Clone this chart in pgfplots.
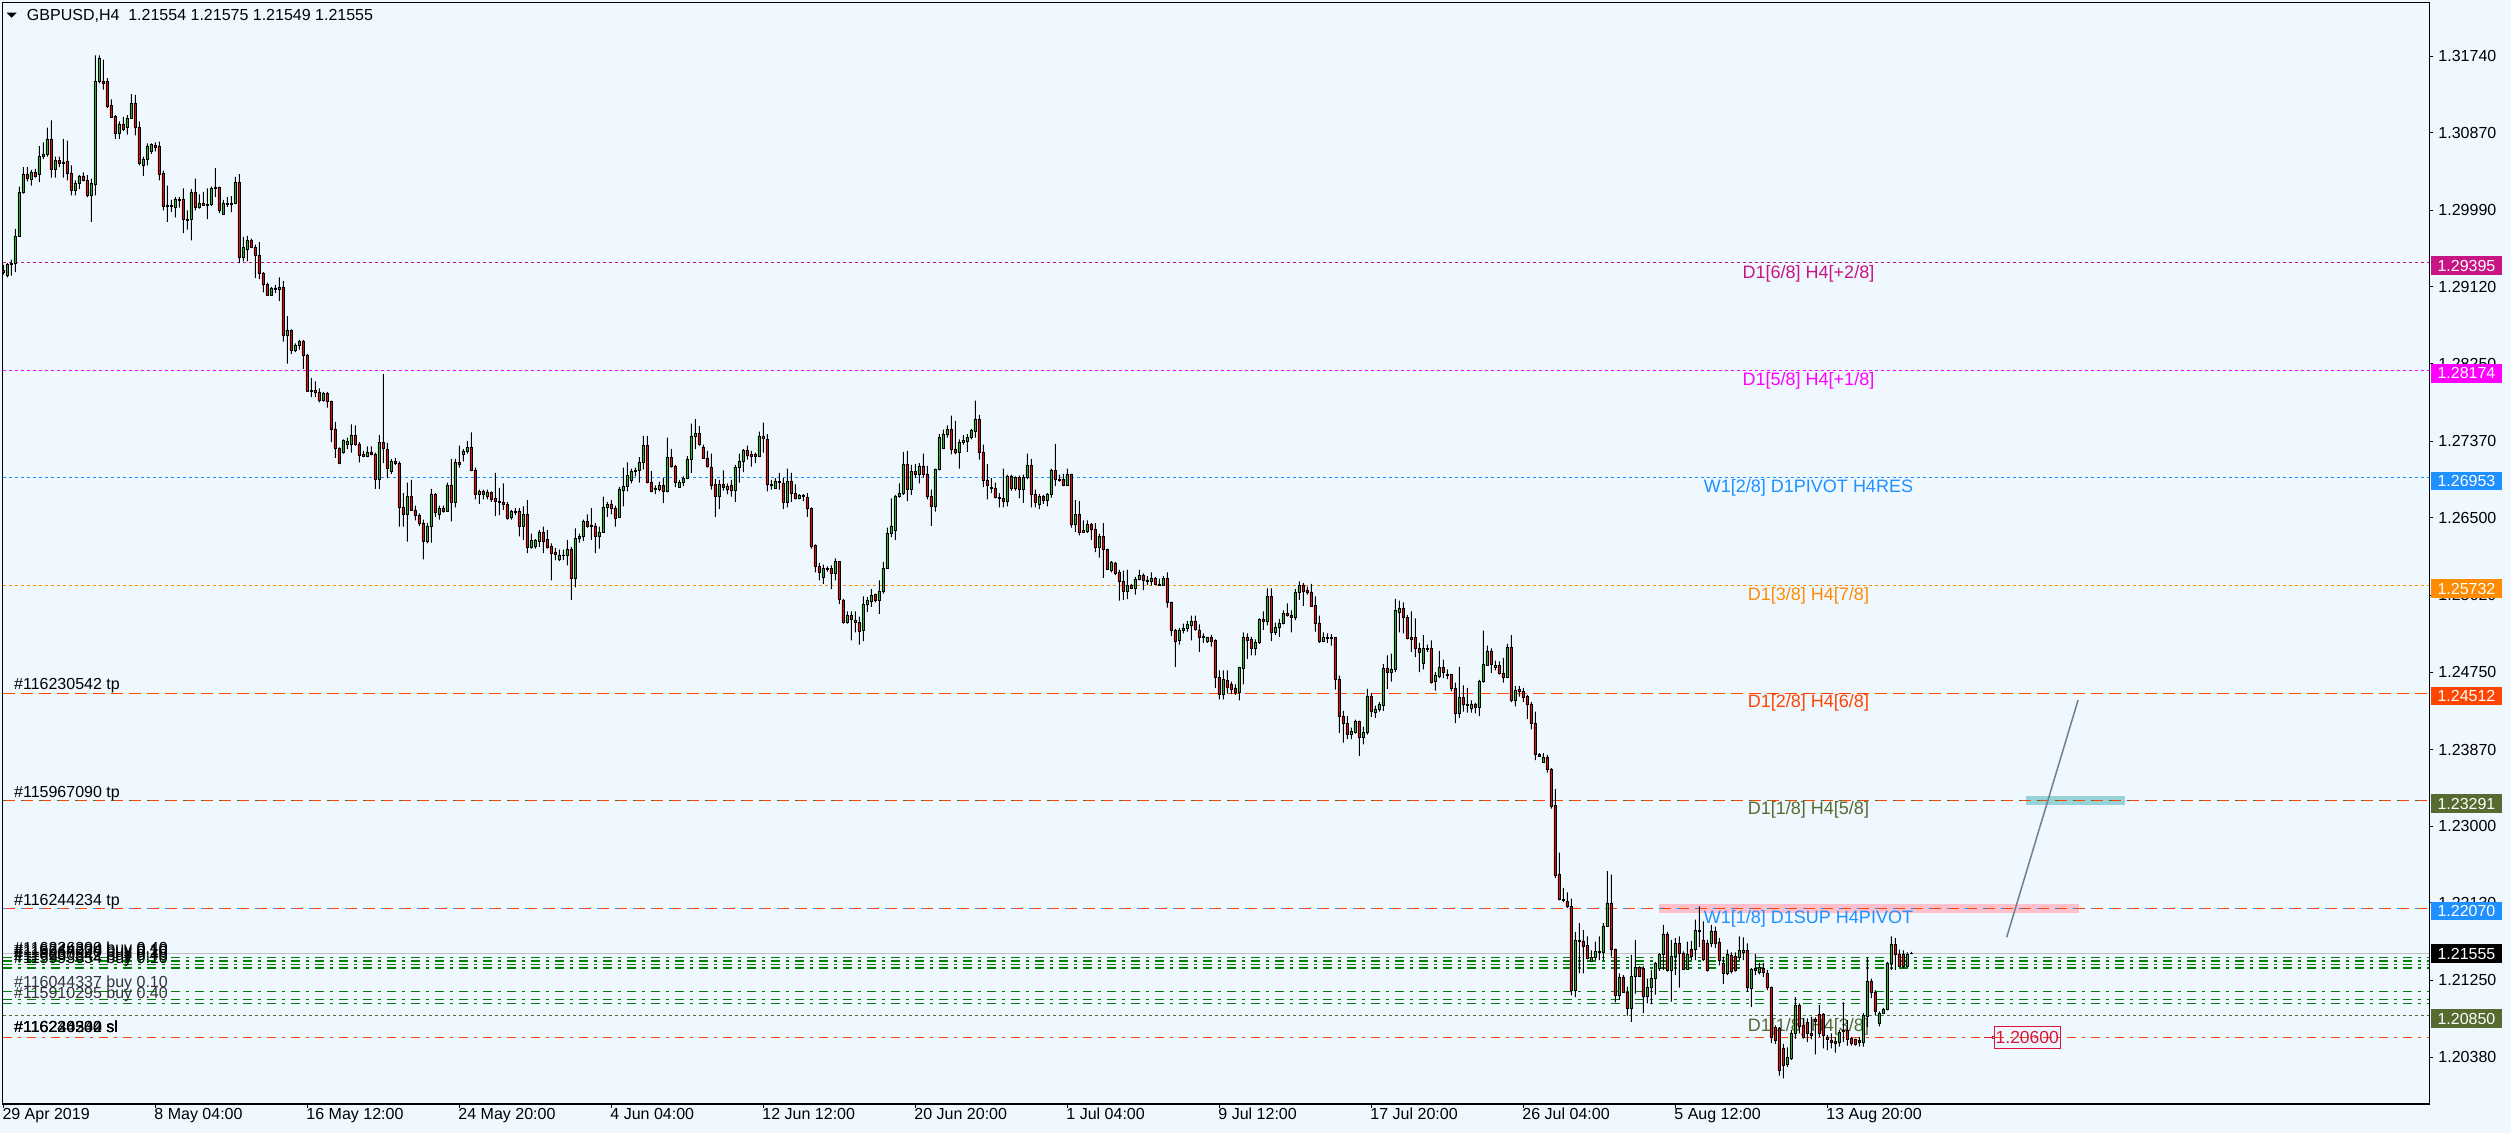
\documentclass[border=0pt]{standalone}
\usepackage{fontspec}
\setmainfont{Liberation Sans}
\usepackage{pgfplots}
\usepackage{pgfplotstable}
\pgfplotsset{compat=1.18}

\definecolor{bg}{RGB}{240,248,255}
\definecolor{bull}{RGB}{45,175,45}
\definecolor{bear}{RGB}{230,10,10}
\definecolor{mvr}{RGB}{199,21,133}
\definecolor{mag}{RGB}{255,0,255}
\definecolor{dblue}{RGB}{30,144,255}
\definecolor{dorange}{RGB}{255,140,0}
\definecolor{ored}{RGB}{255,69,0}
\definecolor{dolive}{RGB}{85,107,47}
\definecolor{ordgreen}{RGB}{0,128,0}
\definecolor{crim}{RGB}{220,20,60}
\definecolor{tline}{RGB}{112,128,144}
\definecolor{zonepink}{RGB}{255,192,203}
\definecolor{zonecyan}{RGB}{150,210,215}
\definecolor{curline}{RGB}{192,192,192}

\newcommand\fs{\fontsize{16}{19}\selectfont}
\newcommand\fl{\fontsize{18}{21}\selectfont}

\pgfplotsset{
  chartframe/.style={
    at={(2.7pt,29.1pt)}, anchor=south west,
    scale only axis, width=2426.6pt, height=1101.6pt,
    xmin=-0.15, xmax=606.5, ymin=1.19849, ymax=1.32351},
  candlelayer/.style={chartframe, hide axis, ybar stacked, axis background/.style={}}
}

% GBPUSD H4 candles: index, open, high, low, close
\pgfplotstableread{
i o h l c
0 1.2931 1.2937 1.2926 1.2929
1 1.2925 1.2939 1.2923 1.2938
2 1.2938 1.2943 1.2925 1.2939
3 1.2939 1.2978 1.2929 1.2970
4 1.2970 1.3026 1.2969 1.3019
5 1.3019 1.3048 1.3018 1.3040
6 1.3040 1.3048 1.3032 1.3035
7 1.3034 1.3045 1.3027 1.3042
8 1.3042 1.3046 1.3036 1.3038
9 1.3040 1.3072 1.3031 1.3060
10 1.3060 1.3076 1.3057 1.3063
11 1.3063 1.3093 1.3060 1.3080
12 1.3080 1.3101 1.3036 1.3046
13 1.3046 1.3060 1.3036 1.3056
14 1.3056 1.3060 1.3048 1.3052
15 1.3054 1.3080 1.3036 1.3052
16 1.3055 1.3078 1.3033 1.3041
17 1.3041 1.3050 1.3016 1.3022
18 1.3022 1.3033 1.3016 1.3030
19 1.3030 1.3039 1.3023 1.3038
20 1.3038 1.3042 1.3032 1.3033
21 1.3033 1.3039 1.3014 1.3016
22 1.3016 1.3035 1.2986 1.3030
23 1.3029 1.3175 1.3016 1.3145
24 1.3145 1.3175 1.3143 1.3172
25 1.3146 1.3170 1.3136 1.3143
26 1.3145 1.3149 1.3115 1.3117
27 1.3118 1.3125 1.3104 1.3105
28 1.3106 1.3107 1.3080 1.3086
29 1.3086 1.3100 1.3080 1.3097
30 1.3097 1.3105 1.3089 1.3091
31 1.3093 1.3107 1.3085 1.3104
32 1.3104 1.3131 1.3103 1.3121
33 1.3121 1.3130 1.3084 1.3093
34 1.3093 1.3100 1.3050 1.3052
35 1.3050 1.3060 1.3038 1.3057
36 1.3057 1.3075 1.3050 1.3072
37 1.3066 1.3075 1.3063 1.3074
38 1.3073 1.3076 1.3066 1.3071
39 1.3072 1.3077 1.3033 1.3040
40 1.3041 1.3044 1.2999 1.3004
41 1.3005 1.3027 1.2986 1.3004
42 1.3004 1.3011 1.2997 1.3005
43 1.3003 1.3014 1.2991 1.3012
44 1.3012 1.3014 1.3002 1.3011
45 1.3012 1.3024 1.2973 1.2989
46 1.2989 1.2999 1.2977 1.2988
47 1.2989 1.3023 1.2965 1.3019
48 1.3019 1.3035 1.2999 1.3002
49 1.3002 1.3017 1.3001 1.3007
50 1.3007 1.3020 1.3004 1.3005
51 1.3005 1.3024 1.2989 1.3006
52 1.3006 1.3026 1.3004 1.3024
53 1.3024 1.3047 1.3014 1.3025
54 1.3025 1.3026 1.2996 1.2999
55 1.2995 1.3011 1.2994 1.3007
56 1.3007 1.3014 1.3003 1.3006
57 1.3006 1.3015 1.2997 1.3007
58 1.3007 1.3037 1.3006 1.3031
59 1.3031 1.3040 1.2939 1.2946
60 1.2946 1.2969 1.2941 1.2957
61 1.2955 1.2970 1.2941 1.2965
62 1.2965 1.2967 1.2956 1.2957
63 1.2957 1.2960 1.2922 1.2948
64 1.2948 1.2963 1.2921 1.2928
65 1.2928 1.2929 1.2906 1.2915
66 1.2915 1.2917 1.2902 1.2903
67 1.2903 1.2912 1.2902 1.2911
68 1.2911 1.2914 1.2905 1.2910
69 1.2910 1.2923 1.2896 1.2912
70 1.2912 1.2919 1.2850 1.2857
71 1.2857 1.2879 1.2825 1.2863
72 1.2863 1.2864 1.2836 1.2840
73 1.2840 1.2848 1.2838 1.2846
74 1.2846 1.2852 1.2841 1.2850
75 1.2850 1.2852 1.2819 1.2835
76 1.2835 1.2836 1.2793 1.2794
77 1.2794 1.2809 1.2787 1.2795
78 1.2795 1.2805 1.2787 1.2793
79 1.2793 1.2797 1.2781 1.2783
80 1.2783 1.2793 1.2782 1.2791
81 1.2791 1.2793 1.2775 1.2782
82 1.2782 1.2783 1.2736 1.2751
83 1.2751 1.2759 1.2718 1.2729
84 1.2729 1.2730 1.2711 1.2712
85 1.2724 1.2739 1.2723 1.2738
86 1.2734 1.2741 1.2728 1.2737
87 1.2734 1.2756 1.2724 1.2744
88 1.2744 1.2755 1.2732 1.2734
89 1.2734 1.2736 1.2713 1.2721
90 1.2722 1.2726 1.2719 1.2720
91 1.2720 1.2731 1.2719 1.2725
92 1.2725 1.2731 1.2721 1.2722
93 1.2722 1.2724 1.2683 1.2694
94 1.2694 1.2744 1.2683 1.2736
95 1.2736 1.2813 1.2712 1.2729
96 1.2728 1.2735 1.2695 1.2706
97 1.2703 1.2717 1.2700 1.2714
98 1.2714 1.2718 1.2710 1.2712
99 1.2712 1.2714 1.2640 1.2662
100 1.2662 1.2678 1.2640 1.2654
101 1.2654 1.2690 1.2623 1.2674
102 1.2674 1.2693 1.2658 1.2659
103 1.2659 1.2664 1.2647 1.2653
104 1.2653 1.2655 1.2641 1.2644
105 1.2644 1.2648 1.2603 1.2624
106 1.2624 1.2644 1.2621 1.2641
107 1.2641 1.2683 1.2622 1.2677
108 1.2677 1.2678 1.2651 1.2656
109 1.2654 1.2664 1.2648 1.2661
110 1.2661 1.2664 1.2656 1.2658
111 1.2658 1.2690 1.2657 1.2687
112 1.2687 1.2717 1.2646 1.2668
113 1.2668 1.2717 1.2662 1.2713
114 1.2713 1.2732 1.2707 1.2711
115 1.2722 1.2728 1.2714 1.2726
116 1.2726 1.2737 1.2723 1.2730
117 1.2730 1.2747 1.2703 1.2704
118 1.2704 1.2707 1.2671 1.2677
119 1.2677 1.2682 1.2666 1.2680
120 1.2680 1.2682 1.2671 1.2677
121 1.2675 1.2682 1.2671 1.2679
122 1.2679 1.2680 1.2668 1.2671
123 1.2672 1.2701 1.2652 1.2669
124 1.2669 1.2684 1.2653 1.2668
125 1.2668 1.2689 1.2659 1.2665
126 1.2665 1.2668 1.2648 1.2650
127 1.2651 1.2659 1.2648 1.2657
128 1.2658 1.2661 1.2653 1.2656
129 1.2658 1.2661 1.2629 1.2641
130 1.2641 1.2663 1.2625 1.2654
131 1.2654 1.2670 1.2610 1.2617
132 1.2617 1.2632 1.2615 1.2625
133 1.2618 1.2626 1.2615 1.2625
134 1.2624 1.2636 1.2617 1.2634
135 1.2634 1.2640 1.2610 1.2624
136 1.2626 1.2636 1.2615 1.2617
137 1.2618 1.2621 1.2579 1.2610
138 1.2611 1.2616 1.2602 1.2609
139 1.2603 1.2614 1.2601 1.2608
140 1.2608 1.2614 1.2602 1.2607
141 1.2607 1.2625 1.2596 1.2614
142 1.2614 1.2617 1.2557 1.2581
143 1.2581 1.2638 1.2571 1.2627
144 1.2627 1.2632 1.2622 1.2629
145 1.2629 1.2648 1.2624 1.2646
146 1.2646 1.2654 1.2639 1.2640
147 1.2642 1.2661 1.2625 1.2640
148 1.2641 1.2644 1.2610 1.2629
149 1.2629 1.2640 1.2615 1.2634
150 1.2634 1.2674 1.2633 1.2662
151 1.2662 1.2668 1.2651 1.2666
152 1.2666 1.2670 1.2654 1.2661
153 1.2661 1.2664 1.2640 1.2650
154 1.2651 1.2685 1.2650 1.2683
155 1.2681 1.2707 1.2663 1.2686
156 1.2686 1.2713 1.2680 1.2698
157 1.2693 1.2706 1.2689 1.2703
158 1.2703 1.2707 1.2697 1.2704
159 1.2704 1.2719 1.2690 1.2713
160 1.2713 1.2743 1.2705 1.2732
161 1.2732 1.2743 1.2689 1.2690
162 1.2690 1.2703 1.2679 1.2680
163 1.2684 1.2687 1.2677 1.2683
164 1.2683 1.2691 1.2680 1.2687
165 1.2687 1.2695 1.2667 1.2680
166 1.2680 1.2741 1.2679 1.2719
167 1.2719 1.2728 1.2707 1.2708
168 1.2709 1.2710 1.2685 1.2690
169 1.2685 1.2693 1.2684 1.2690
170 1.2690 1.2697 1.2686 1.2695
171 1.2695 1.2720 1.2694 1.2716
172 1.2716 1.2757 1.2701 1.2743
173 1.2743 1.2762 1.2728 1.2746
174 1.2746 1.2754 1.2732 1.2733
175 1.2730 1.2733 1.2717 1.2718
176 1.2718 1.2726 1.2707 1.2708
177 1.2708 1.2723 1.2682 1.2687
178 1.2688 1.2694 1.2651 1.2674
179 1.2674 1.2693 1.2660 1.2688
180 1.2688 1.2704 1.2681 1.2685
181 1.2682 1.2689 1.2677 1.2686
182 1.2687 1.2693 1.2674 1.2681
183 1.2681 1.2710 1.2668 1.2707
184 1.2707 1.2723 1.2690 1.2714
185 1.2714 1.2728 1.2702 1.2727
186 1.2727 1.2732 1.2716 1.2721
187 1.2722 1.2726 1.2708 1.2720
188 1.2722 1.2724 1.2712 1.2720
189 1.2720 1.2748 1.2719 1.2743
190 1.2743 1.2758 1.2724 1.2740
191 1.2739 1.2745 1.2680 1.2688
192 1.2688 1.2693 1.2682 1.2687
193 1.2684 1.2695 1.2683 1.2692
194 1.2692 1.2701 1.2682 1.2690
195 1.2689 1.2695 1.2660 1.2668
196 1.2668 1.2706 1.2662 1.2692
197 1.2692 1.2701 1.2668 1.2678
198 1.2678 1.2688 1.2671 1.2672
199 1.2672 1.2677 1.2671 1.2676
200 1.2676 1.2677 1.2669 1.2674
201 1.2673 1.2678 1.2651 1.2661
202 1.2661 1.2662 1.2615 1.2618
203 1.2619 1.2620 1.2588 1.2595
204 1.2595 1.2599 1.2579 1.2588
205 1.2583 1.2597 1.2575 1.2593
206 1.2593 1.2595 1.2589 1.2592
207 1.2593 1.2596 1.2569 1.2587
208 1.2587 1.2604 1.2579 1.2601
209 1.2601 1.2601 1.2552 1.2558
210 1.2557 1.2558 1.2530 1.2531
211 1.2531 1.2544 1.2530 1.2539
212 1.2539 1.2544 1.2511 1.2535
213 1.2534 1.2544 1.2520 1.2531
214 1.2531 1.2538 1.2506 1.2521
215 1.2522 1.2561 1.2510 1.2552
216 1.2552 1.2560 1.2543 1.2556
217 1.2555 1.2569 1.2549 1.2562
218 1.2563 1.2564 1.2554 1.2556
219 1.2556 1.2579 1.2541 1.2567
220 1.2567 1.2600 1.2564 1.2593
221 1.2593 1.2639 1.2592 1.2632
222 1.2632 1.2672 1.2628 1.2641
223 1.2636 1.2676 1.2625 1.2675
224 1.2674 1.2689 1.2673 1.2678
225 1.2678 1.2725 1.2676 1.2711
226 1.2711 1.2726 1.2669 1.2682
227 1.2682 1.2710 1.2676 1.2703
228 1.2703 1.2711 1.2695 1.2699
229 1.2699 1.2712 1.2689 1.2709
230 1.2709 1.2723 1.2696 1.2700
231 1.2700 1.2709 1.2671 1.2674
232 1.2674 1.2682 1.2641 1.2663
233 1.2663 1.2706 1.2657 1.2705
234 1.2705 1.2745 1.2704 1.2741
235 1.2729 1.2750 1.2728 1.2745
236 1.2745 1.2755 1.2741 1.2750
237 1.2750 1.2766 1.2722 1.2728
238 1.2728 1.2760 1.2722 1.2724
239 1.2724 1.2739 1.2706 1.2736
240 1.2736 1.2744 1.2733 1.2738
241 1.2737 1.2745 1.2725 1.2741
242 1.2741 1.2751 1.2739 1.2749
243 1.2748 1.2783 1.2741 1.2762
244 1.2762 1.2767 1.2716 1.2724
245 1.2724 1.2733 1.2685 1.2693
246 1.2693 1.2711 1.2671 1.2687
247 1.2684 1.2695 1.2678 1.2685
248 1.2684 1.2690 1.2672 1.2673
249 1.2673 1.2678 1.2662 1.2672
250 1.2672 1.2706 1.2662 1.2669
251 1.2669 1.2699 1.2663 1.2697
252 1.2697 1.2699 1.2681 1.2684
253 1.2684 1.2697 1.2681 1.2696
254 1.2696 1.2698 1.2672 1.2682
255 1.2682 1.2699 1.2667 1.2696
256 1.2696 1.2723 1.2694 1.2710
257 1.2710 1.2717 1.2662 1.2677
258 1.2677 1.2682 1.2662 1.2668
259 1.2666 1.2677 1.2660 1.2674
260 1.2674 1.2676 1.2666 1.2670
261 1.2670 1.2678 1.2663 1.2677
262 1.2677 1.2706 1.2673 1.2704
263 1.2704 1.2734 1.2686 1.2694
264 1.2694 1.2699 1.2691 1.2693
265 1.2694 1.2700 1.2686 1.2687
266 1.2687 1.2706 1.2686 1.2700
267 1.2700 1.2700 1.2639 1.2643
268 1.2643 1.2670 1.2634 1.2654
269 1.2654 1.2669 1.2630 1.2634
270 1.2636 1.2647 1.2633 1.2634
271 1.2635 1.2647 1.2633 1.2643
272 1.2643 1.2644 1.2625 1.2637
273 1.2637 1.2644 1.2611 1.2617
274 1.2617 1.2632 1.2605 1.2629
275 1.2629 1.2644 1.2582 1.2614
276 1.2614 1.2615 1.2591 1.2592
277 1.2591 1.2601 1.2588 1.2600
278 1.2599 1.2600 1.2585 1.2587
279 1.2588 1.2591 1.2556 1.2578
280 1.2578 1.2590 1.2557 1.2567
281 1.2567 1.2591 1.2558 1.2574
282 1.2574 1.2575 1.2569 1.2570
283 1.2570 1.2583 1.2563 1.2580
284 1.2580 1.2591 1.2579 1.2585
285 1.2585 1.2587 1.2568 1.2579
286 1.2579 1.2584 1.2574 1.2578
287 1.2578 1.2588 1.2573 1.2581
288 1.2581 1.2583 1.2574 1.2575
289 1.2575 1.2581 1.2573 1.2574
290 1.2574 1.2584 1.2573 1.2581
291 1.2581 1.2588 1.2548 1.2554
292 1.2554 1.2555 1.2516 1.2522
293 1.2522 1.2524 1.2481 1.2510
294 1.2511 1.2525 1.2506 1.2523
295 1.2523 1.2530 1.2519 1.2525
296 1.2525 1.2533 1.2521 1.2529
297 1.2528 1.2539 1.2511 1.2533
298 1.2533 1.2539 1.2522 1.2524
299 1.2523 1.2529 1.2498 1.2515
300 1.2516 1.2519 1.2508 1.2515
301 1.2510 1.2515 1.2508 1.2514
302 1.2514 1.2517 1.2504 1.2510
303 1.2511 1.2512 1.2457 1.2469
304 1.2469 1.2477 1.2444 1.2450
305 1.2450 1.2477 1.2444 1.2467
306 1.2466 1.2477 1.2451 1.2458
307 1.2461 1.2464 1.2450 1.2455
308 1.2457 1.2461 1.2449 1.2452
309 1.2452 1.2481 1.2443 1.2480
310 1.2479 1.2520 1.2461 1.2514
311 1.2514 1.2519 1.2490 1.2511
312 1.2512 1.2515 1.2494 1.2502
313 1.2502 1.2512 1.2494 1.2509
314 1.2509 1.2536 1.2507 1.2535
315 1.2535 1.2544 1.2523 1.2533
316 1.2533 1.2570 1.2528 1.2561
317 1.2561 1.2570 1.2510 1.2520
318 1.2520 1.2531 1.2517 1.2526
319 1.2526 1.2535 1.2515 1.2530
320 1.2530 1.2545 1.2529 1.2542
321 1.2542 1.2553 1.2538 1.2539
322 1.2540 1.2545 1.2520 1.2537
323 1.2537 1.2569 1.2534 1.2566
324 1.2566 1.2578 1.2557 1.2573
325 1.2574 1.2576 1.2550 1.2567
326 1.2568 1.2572 1.2563 1.2566
327 1.2566 1.2575 1.2549 1.2550
328 1.2551 1.2561 1.2521 1.2530
329 1.2530 1.2539 1.2508 1.2510
330 1.2510 1.2520 1.2509 1.2514
331 1.2514 1.2519 1.2508 1.2513
332 1.2513 1.2518 1.2505 1.2514
333 1.2514 1.2515 1.2455 1.2467
334 1.2467 1.2471 1.2406 1.2425
335 1.2425 1.2431 1.2395 1.2417
336 1.2417 1.2425 1.2399 1.2404
337 1.2404 1.2412 1.2399 1.2408
338 1.2407 1.2421 1.2405 1.2419
339 1.2419 1.2420 1.2380 1.2401
340 1.2401 1.2413 1.2393 1.2407
341 1.2407 1.2456 1.2404 1.2448
342 1.2448 1.2451 1.2424 1.2430
343 1.2429 1.2437 1.2423 1.2433
344 1.2433 1.2441 1.2430 1.2438
345 1.2437 1.2484 1.2431 1.2479
346 1.2479 1.2494 1.2456 1.2475
347 1.2475 1.2496 1.2464 1.2478
348 1.2478 1.2558 1.2475 1.2545
349 1.2543 1.2556 1.2520 1.2547
350 1.2547 1.2554 1.2519 1.2537
351 1.2537 1.2540 1.2512 1.2513
352 1.2514 1.2544 1.2498 1.2512
353 1.2514 1.2536 1.2492 1.2502
354 1.2502 1.2508 1.2475 1.2498
355 1.2485 1.2517 1.2478 1.2502
356 1.2502 1.2506 1.2498 1.2501
357 1.2502 1.2511 1.2462 1.2463
358 1.2464 1.2475 1.2454 1.2471
359 1.2470 1.2499 1.2468 1.2480
360 1.2480 1.2489 1.2468 1.2475
361 1.2472 1.2478 1.2467 1.2471
362 1.2472 1.2473 1.2453 1.2457
363 1.2457 1.2463 1.2417 1.2428
364 1.2428 1.2481 1.2423 1.2446
365 1.2446 1.2460 1.2430 1.2438
366 1.2438 1.2457 1.2429 1.2437
367 1.2434 1.2443 1.2429 1.2438
368 1.2439 1.2440 1.2428 1.2435
369 1.2435 1.2466 1.2425 1.2464
370 1.2464 1.2522 1.2463 1.2484
371 1.2483 1.2505 1.2482 1.2499
372 1.2499 1.2502 1.2474 1.2484
373 1.2480 1.2488 1.2477 1.2483
374 1.2483 1.2487 1.2472 1.2474
375 1.2474 1.2491 1.2463 1.2469
376 1.2469 1.2507 1.2468 1.2503
377 1.2503 1.2517 1.2441 1.2443
378 1.2443 1.2459 1.2436 1.2454
379 1.2455 1.2459 1.2447 1.2453
380 1.2453 1.2457 1.2441 1.2446
381 1.2447 1.2449 1.2422 1.2438
382 1.2439 1.2441 1.2410 1.2417
383 1.2417 1.2430 1.2375 1.2382
384 1.2382 1.2383 1.2379 1.2380
385 1.2373 1.2383 1.2372 1.2378
386 1.2378 1.2381 1.2361 1.2365
387 1.2365 1.2366 1.2320 1.2323
388 1.2324 1.2342 1.2241 1.2244
389 1.2245 1.2270 1.2216 1.2217
390 1.2217 1.2230 1.2214 1.2216
391 1.2215 1.2225 1.2207 1.2209
392 1.2209 1.2218 1.2108 1.2114
393 1.2114 1.2180 1.2106 1.2171
394 1.2169 1.2190 1.2133 1.2171
395 1.2170 1.2182 1.2133 1.2164
396 1.2165 1.2175 1.2149 1.2150
397 1.2147 1.2159 1.2146 1.2151
398 1.2151 1.2169 1.2148 1.2158
399 1.2158 1.2175 1.2148 1.2157
400 1.2157 1.2190 1.2148 1.2187
401 1.2187 1.2249 1.2186 1.2213
402 1.2213 1.2245 1.2152 1.2160
403 1.2160 1.2161 1.2100 1.2108
404 1.2108 1.2133 1.2103 1.2129
405 1.2129 1.2131 1.2111 1.2112
406 1.2112 1.2118 1.2085 1.2093
407 1.2093 1.2154 1.2078 1.2130
408 1.2130 1.2171 1.2110 1.2140
409 1.2140 1.2141 1.2129 1.2130
410 1.2139 1.2141 1.2088 1.2107
411 1.2107 1.2127 1.2099 1.2117
412 1.2117 1.2137 1.2098 1.2127
413 1.2128 1.2146 1.2109 1.2144
414 1.2139 1.2156 1.2136 1.2155
415 1.2155 1.2188 1.2137 1.2178
416 1.2178 1.2180 1.2135 1.2137
417 1.2137 1.2171 1.2101 1.2153
418 1.2152 1.2173 1.2131 1.2167
419 1.2167 1.2175 1.2117 1.2156
420 1.2156 1.2158 1.2137 1.2138
421 1.2138 1.2169 1.2137 1.2155
422 1.2160 1.2170 1.2148 1.2152
423 1.2160 1.2194 1.2148 1.2182
424 1.2181 1.2209 1.2163 1.2182
425 1.2171 1.2192 1.2147 1.2149
426 1.2167 1.2171 1.2135 1.2137
427 1.2167 1.2188 1.2163 1.2181
428 1.2181 1.2186 1.2162 1.2167
429 1.2168 1.2173 1.2142 1.2148
430 1.2144 1.2152 1.2121 1.2133
431 1.2133 1.2160 1.2131 1.2155
432 1.2154 1.2157 1.2133 1.2135
433 1.2152 1.2157 1.2135 1.2137
434 1.2151 1.2175 1.2148 1.2159
435 1.2157 1.2174 1.2148 1.2159
436 1.2159 1.2167 1.2112 1.2117
437 1.2116 1.2139 1.2095 1.2138
438 1.2139 1.2155 1.2131 1.2137
439 1.2134 1.2145 1.2132 1.2140
440 1.2139 1.2145 1.2129 1.2134
441 1.2133 1.2137 1.2114 1.2117
442 1.2117 1.2118 1.2054 1.2061
443 1.2072 1.2074 1.2053 1.2057
444 1.2071 1.2072 1.2017 1.2023
445 1.2048 1.2053 1.2014 1.2029
446 1.2030 1.2049 1.2027 1.2038
447 1.2037 1.2069 1.2035 1.2065
448 1.2065 1.2106 1.2059 1.2097
449 1.2097 1.2099 1.2065 1.2073
450 1.2074 1.2082 1.2059 1.2061
451 1.2077 1.2082 1.2055 1.2065
452 1.2065 1.2084 1.2058 1.2063
453 1.2081 1.2083 1.2041 1.2079
454 1.2087 1.2097 1.2061 1.2065
455 1.2087 1.2088 1.2048 1.2063
456 1.2061 1.2063 1.2046 1.2058
457 1.2057 1.2065 1.2048 1.2055
458 1.2056 1.2061 1.2043 1.2054
459 1.2055 1.2069 1.2050 1.2066
460 1.2069 1.2100 1.2055 1.2067
461 1.2069 1.2080 1.2051 1.2058
462 1.2059 1.2061 1.2051 1.2054
463 1.2058 1.2059 1.2051 1.2053
464 1.2057 1.2061 1.2050 1.2055
465 1.2055 1.2088 1.2050 1.2085
466 1.2084 1.2151 1.2072 1.2124
467 1.2124 1.2127 1.2105 1.2112
468 1.2112 1.2114 1.2086 1.2090
469 1.2076 1.2090 1.2073 1.2088
470 1.2088 1.2094 1.2087 1.2092
471 1.2092 1.2146 1.2091 1.2144
472 1.2144 1.2175 1.2137 1.2166
473 1.2166 1.2173 1.2137 1.2155
474 1.2155 1.2160 1.2140 1.2141
475 1.2155 1.2159 1.2139 1.2141
476 1.2141 1.2157 1.2140 1.2155
477 1.21554 1.21575 1.21549 1.21555
}\candles

\begin{document}
\begin{tikzpicture}[x=1pt,y=1pt]
\fill[bg] (0,0) rectangle (2511,1133);

% ---------- frame, scale, levels, labels
\begin{axis}[
  chartframe,
  clip mode=individual,
  axis background/.style={fill=bg},
  axis line style={black, line width=1.2pt},
  tick align=outside, major tick length=4pt,
  tick style={black, line width=1pt},
  xtick pos=bottom, ytick pos=right,
  xticklabel pos=bottom, yticklabel pos=right,
  xtick={0,38,76,114,152,190,228,266,304,342,380,418,456},
  xticklabels={29 Apr 2019,8 May 04:00,16 May 12:00,24 May 20:00,4 Jun 04:00,12 Jun 12:00,20 Jun 20:00,1 Jul 04:00,9 Jul 12:00,17 Jul 20:00,26 Jul 04:00,5 Aug 12:00,13 Aug 20:00},
  ytick={1.20380,1.21250,1.22130,1.23000,1.23870,1.24750,1.25620,1.26500,1.27370,1.28250,1.29120,1.29990,1.30870,1.31740},
  yticklabels={1.20380,1.21250,1.22130,1.23000,1.23870,1.24750,1.25620,1.26500,1.27370,1.28250,1.29120,1.29990,1.30870,1.31740},
  xticklabel style={anchor=north west, inner sep=0pt, font=\fs, xshift=-1pt},
  yticklabel style={anchor=west, inner sep=0pt, font=\fs, xshift=5pt},
  scaled y ticks=false,
]
\addplot[fill=zonepink, draw=none] coordinates {(413.9,1.22019) (518.9,1.22019) (518.9,1.22114) (413.9,1.22114)};
\addplot[fill=zonecyan, draw=none] coordinates {(505.6,1.23236) (530.4,1.23236) (530.4,1.23345) (505.6,1.23345)};

\addplot[mvr, line width=1pt, dash pattern=on 3pt off 3pt] coordinates {(-0.15,1.29395) (606.5,1.29395)};
\addplot[mag, line width=1pt, dash pattern=on 3pt off 3pt] coordinates {(-0.15,1.28174) (606.5,1.28174)};
\addplot[dblue, line width=1pt, dash pattern=on 3pt off 3pt] coordinates {(-0.15,1.26953) (606.5,1.26953)};
\addplot[dorange, line width=1pt, dash pattern=on 3pt off 3pt] coordinates {(-0.15,1.25732) (606.5,1.25732)};
\addplot[ored, line width=1pt, dash pattern=on 12pt off 6pt] coordinates {(-0.15,1.24512) (606.5,1.24512)};
\addplot[ored, line width=1pt, dash pattern=on 12pt off 6pt] coordinates {(-0.15,1.23291) (606.5,1.23291)};
\addplot[dolive, line width=1pt, dash pattern=on 3pt off 15pt] coordinates {(-0.15,1.23291) (606.5,1.23291)};
\addplot[ored, line width=1pt, dash pattern=on 12pt off 6pt] coordinates {(-0.15,1.22070) (606.5,1.22070)};
\addplot[dblue, line width=1pt, dash pattern=on 3pt off 15pt] coordinates {(-0.15,1.22070) (606.5,1.22070)};
\addplot[curline, line width=1pt] coordinates {(-0.15,1.21555) (606.5,1.21555)};
\addplot[ordgreen, line width=1.8pt, dash pattern=on 9pt off 6pt on 3pt off 6pt] coordinates {(-0.15,1.21510) (606.5,1.21510)};
\addplot[ordgreen, line width=1.8pt, dash pattern=on 9pt off 6pt on 3pt off 6pt] coordinates {(-0.15,1.21470) (606.5,1.21470)};
\addplot[ordgreen, line width=1.8pt, dash pattern=on 9pt off 6pt on 3pt off 6pt] coordinates {(-0.15,1.21431) (606.5,1.21431)};
\addplot[ordgreen, line width=1.8pt, dash pattern=on 9pt off 6pt on 3pt off 6pt] coordinates {(-0.15,1.21391) (606.5,1.21391)};
\addplot[ordgreen, line width=1pt, dash pattern=on 9pt off 6pt on 3pt off 6pt] coordinates {(-0.15,1.21125) (606.5,1.21125)};
\addplot[ordgreen, line width=1pt, dash pattern=on 9pt off 6pt on 3pt off 6pt] coordinates {(-0.15,1.21036) (606.5,1.21036)};
\addplot[ordgreen, line width=1pt, dash pattern=on 9pt off 6pt on 3pt off 6pt] coordinates {(-0.15,1.20994) (606.5,1.20994)};
\addplot[dolive, line width=1pt, dash pattern=on 3pt off 3pt] coordinates {(-0.15,1.20850) (606.5,1.20850)};
\addplot[ored, line width=1pt, dash pattern=on 9pt off 6pt on 3pt off 6pt] coordinates {(-0.15,1.20600) (606.5,1.20600)};

\addplot[tline, line width=1.5pt] coordinates {(500.85,1.21740) (518.7,1.24432)};

% level labels
\node[text=mvr, font=\fl] at (axis cs:451.3,1.29270) {D1[6/8] H4[+2/8]};
\node[text=mag, font=\fl] at (axis cs:451.3,1.28053) {D1[5/8] H4[+1/8]};
\node[text=dblue, font=\fl] at (axis cs:451.3,1.26839) {W1[2/8] D1PIVOT H4RES};
\node[text=dorange, font=\fl] at (axis cs:451.3,1.25617) {D1[3/8] H4[7/8]};
\node[text=ored, font=\fl] at (axis cs:451.3,1.24399) {D1[2/8] H4[6/8]};
\node[text=dolive, font=\fl] at (axis cs:451.3,1.23184) {D1[1/8] H4[5/8]};
\node[text=dblue, font=\fl] at (axis cs:451.3,1.21947) {W1[1/8] D1SUP H4PIVOT};
\node[text=dolive, font=\fl] at (axis cs:451.3,1.20721) {D1[1/8] H4[3/8]};

% order labels
\node[anchor=base west, inner sep=0pt, font=\fs] at (axis cs:2.675,1.24554) {\#116230542 tp};
\node[anchor=base west, inner sep=0pt, font=\fs] at (axis cs:2.675,1.23328) {\#115967090 tp};
\node[anchor=base west, inner sep=0pt, font=\fs] at (axis cs:2.675,1.22106) {\#116244234 tp};
\node[anchor=base west, inner sep=0pt, font=\fs] at (axis cs:2.675,1.21561) {\#116226300 buy 0.40};
\node[anchor=base west, inner sep=0pt, font=\fs] at (axis cs:2.675,1.21533) {\#116244234 buy 0.10};
\node[anchor=base west, inner sep=0pt, font=\fs] at (axis cs:2.675,1.21505) {\#115967090 buy 0.10};
\node[anchor=base west, inner sep=0pt, font=\fs] at (axis cs:2.675,1.21476) {\#116230542 buy 0.40};
\node[anchor=base west, inner sep=0pt, font=\fs] at (axis cs:2.675,1.21448) {\#115993654 buy 0.10};
\node[anchor=base west, inner sep=0pt, font=\fs, text=black!80] at (axis cs:2.675,1.21168) {\#116044337 buy 0.10};
\node[anchor=base west, inner sep=0pt, font=\fs, text=black!80] at (axis cs:2.675,1.21048) {\#115910295 buy 0.40};
\node[anchor=base west, inner sep=0pt, font=\fs] at (axis cs:2.675,1.20662) {\#116230542 sl};
\node[anchor=base west, inner sep=0pt, font=\fs] at (axis cs:2.675,1.20665) {\#116244234 sl};
\node[anchor=base west, inner sep=0pt, font=\fs] at (axis cs:2.675,1.20659) {\#116226300 sl};

% stop-loss price tag
\draw[crim, line width=1pt] (axis cs:495.25,1.20600) -- (axis cs:497.2,1.20600);
\draw[crim, line width=0.8pt] (axis cs:497.2,1.20588) rectangle (axis cs:497.75,1.20612);
\node[draw=crim, line width=1pt, text=crim, font=\fontsize{17.5}{20}\selectfont, minimum width=66pt, minimum height=22.3pt, inner sep=0pt] at (axis cs:506,1.20605) {1.20600};

\coordinate (p1) at (axis cs:606.9,1.29361);
\coordinate (p2) at (axis cs:606.9,1.28140);
\coordinate (p3) at (axis cs:606.9,1.26919);
\coordinate (p4) at (axis cs:606.9,1.25698);
\coordinate (p5) at (axis cs:606.9,1.24478);
\coordinate (p6) at (axis cs:606.9,1.23257);
\coordinate (p7) at (axis cs:606.9,1.22036);
\coordinate (p8) at (axis cs:606.9,1.21553);
\coordinate (p9) at (axis cs:606.9,1.20816);
\end{axis}

% ---------- candle wicks (low + range stacked)
\begin{axis}[candlelayer, bar width=1pt]
\addplot[draw=none, fill=none] table[x=i, y=l] {\candles};
\addplot[draw=none, fill=black] table[x=i, y expr={\thisrow{h}-\thisrow{l}}] {\candles};
\end{axis}

% ---------- candle bodies (lower edge + up part + down part)
\begin{axis}[candlelayer, bar width=2.7pt]
\addplot[draw=none, fill=none] table[x=i, y expr={min(\thisrow{o},\thisrow{c})}] {\candles};
\addplot[draw=black, line width=0.5pt, fill=bull] table[x=i, y expr={max(\thisrow{c}-\thisrow{o},0)}] {\candles};
\addplot[draw=black, line width=0.5pt, fill=bear] table[x=i, y expr={max(\thisrow{o}-\thisrow{c},0)}] {\candles};
\end{axis}

% ---------- price tags on the right scale
\tikzset{tag/.style={anchor=west, minimum width=70.7pt, minimum height=18.6pt, inner sep=0pt, text=white, font=\fs}}
\node[tag, fill=mvr] at (p1) {1.29395};
\node[tag, fill=mag] at (p2) {1.28174};
\node[tag, fill=dblue] at (p3) {1.26953};
\node[tag, fill=dorange] at (p4) {1.25732};
\node[tag, fill=ored] at (p5) {1.24512};
\node[tag, fill=dolive] at (p6) {1.23291};
\node[tag, fill=dblue] at (p7) {1.22070};
\node[tag, fill=black] at (p8) {1.21555};
\node[tag, fill=dolive] at (p9) {1.20850};

% header
\fill[black] (6.5,1120.3) -- (16.8,1120.3) -- (11.65,1115.3) -- cycle;
\node[anchor=base west, inner sep=0pt, font=\fs] at (26.8,1112.3) {GBPUSD,H4\ \ 1.21554 1.21575 1.21549 1.21555};

\pgfresetboundingbox
\useasboundingbox (0,0) rectangle (2511,1133);
\end{tikzpicture}
\end{document}
